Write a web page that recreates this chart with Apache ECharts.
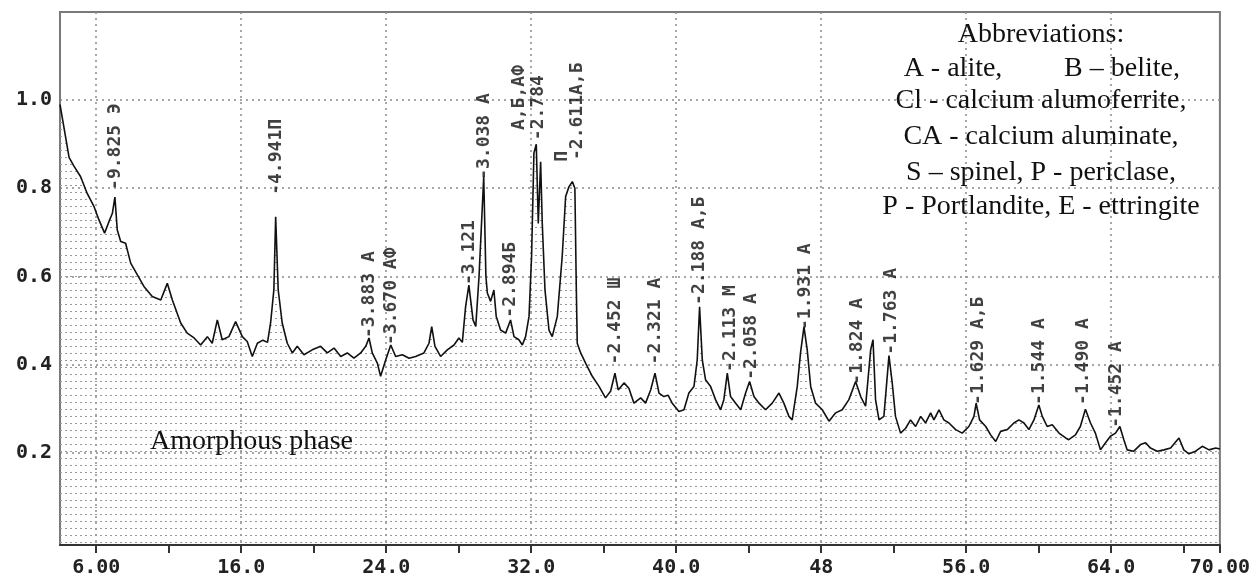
<!DOCTYPE html>
<html>
<head>
<meta charset="utf-8">
<script src="https://cdn.jsdelivr.net/npm/echarts@6/dist/echarts.min.js"></script>
<style>
html,body{margin:0;padding:0;background:#fff;}
#chart{width:1253px;height:583px;}
</style>
</head>
<body>
<div id="chart"></div>
<script>
// ---- data ----
const twoTheta = [6.00,6.25,6.5,6.77,7.14,7.5,7.88,8.15,8.46,8.7,8.89,9.03,9.16,9.35,9.62,9.9,10.27,10.63,11.09,11.56,11.92,12.2,12.66,13.02,13.4,13.76,14.13,14.4,14.68,14.95,15.32,15.69,16.06,16.33,16.61,16.89,17.2,17.45,17.62,17.8,17.9,18.04,18.26,18.54,18.82,19.09,19.46,19.92,20.38,20.75,21.12,21.49,21.85,22.22,22.59,22.87,23.05,23.23,23.51,23.69,23.97,24.25,24.52,24.89,25.26,25.62,26.08,26.36,26.51,26.69,27.0,27.37,27.74,28.01,28.2,28.38,28.56,28.79,28.94,29.12,29.38,29.5,29.58,29.76,29.94,30.07,30.31,30.59,30.86,31.05,31.32,31.51,31.69,31.88,32.02,32.15,32.28,32.39,32.52,32.61,32.76,32.98,33.16,33.44,33.71,33.9,34.08,34.27,34.41,34.49,34.54,34.73,35.0,35.37,35.74,36.1,36.38,36.62,36.8,37.12,37.39,37.67,38.04,38.31,38.59,38.83,39.05,39.32,39.55,39.78,40.15,40.43,40.7,40.98,41.16,41.29,41.44,41.62,41.9,42.17,42.45,42.63,42.82,43.0,43.28,43.56,43.83,44.05,44.29,44.57,44.93,45.3,45.67,45.94,46.22,46.4,46.68,46.86,47.05,47.23,47.42,47.69,48.06,48.43,48.8,49.16,49.53,49.9,50.18,50.45,50.73,50.86,51.0,51.19,51.46,51.74,51.92,52.1,52.38,52.66,52.93,53.21,53.49,53.76,54.04,54.22,54.5,54.77,55.05,55.42,55.78,56.15,56.43,56.55,56.74,57.08,57.35,57.63,57.9,58.27,58.63,58.91,59.19,59.46,59.74,60.01,60.2,60.47,60.75,61.12,61.49,61.66,62.03,62.3,62.58,62.86,63.13,63.41,63.69,63.96,64.24,64.48,64.7,64.88,65.25,65.62,65.9,66.17,66.54,66.91,67.28,67.74,68.01,68.29,68.66,69.03,69.4,69.77,70.0];
const intensity = [0.99,0.93,0.87,0.85,0.826,0.788,0.758,0.728,0.698,0.724,0.743,0.78,0.705,0.679,0.675,0.63,0.603,0.577,0.554,0.546,0.584,0.546,0.494,0.471,0.46,0.444,0.463,0.448,0.501,0.456,0.463,0.497,0.463,0.452,0.418,0.448,0.455,0.45,0.494,0.569,0.735,0.569,0.494,0.448,0.426,0.441,0.422,0.433,0.441,0.426,0.437,0.418,0.426,0.414,0.426,0.441,0.46,0.426,0.403,0.373,0.41,0.444,0.418,0.422,0.414,0.418,0.426,0.448,0.486,0.441,0.418,0.433,0.444,0.46,0.45,0.531,0.58,0.501,0.486,0.599,0.826,0.6,0.562,0.543,0.569,0.509,0.478,0.471,0.501,0.463,0.456,0.444,0.463,0.509,0.645,0.88,0.90,0.72,0.86,0.72,0.569,0.478,0.463,0.509,0.645,0.781,0.803,0.815,0.80,0.569,0.448,0.426,0.403,0.373,0.35,0.324,0.339,0.38,0.342,0.358,0.346,0.312,0.324,0.312,0.342,0.38,0.335,0.327,0.33,0.312,0.293,0.297,0.335,0.35,0.41,0.531,0.41,0.365,0.35,0.32,0.297,0.32,0.38,0.327,0.312,0.297,0.335,0.361,0.327,0.312,0.297,0.312,0.335,0.312,0.282,0.274,0.35,0.426,0.485,0.433,0.35,0.312,0.297,0.271,0.29,0.297,0.32,0.361,0.327,0.305,0.433,0.456,0.32,0.274,0.282,0.42,0.358,0.282,0.244,0.255,0.274,0.259,0.282,0.267,0.29,0.274,0.297,0.274,0.267,0.252,0.244,0.259,0.282,0.312,0.274,0.259,0.24,0.225,0.248,0.252,0.267,0.274,0.267,0.252,0.274,0.308,0.282,0.259,0.263,0.244,0.233,0.229,0.24,0.259,0.298,0.267,0.244,0.206,0.222,0.237,0.244,0.259,0.229,0.206,0.203,0.218,0.222,0.21,0.203,0.206,0.21,0.233,0.206,0.197,0.203,0.214,0.206,0.21,0.208];

// peak annotations: anchor (start of text) in data units
const peakLabelText = ['-9.825 Э','-4.941П','-3.883 А','-3.670 АФ','-3.121','-3.038 А','-2.894Б','-2.784','А,Б,АФ','П','-2.611А,Б','-2.452 Ш','-2.321 А','-2.188 А,Б','-2.113 М','-2.058 А','-1.931 А','-1.824 А','-1.763 А','-1.629 А,Б','-1.544 А','-1.490 А','-1.452 А'];
const peakLabelX = [9.03,17.92,23.05,24.26,28.57,29.39,30.83,32.37,31.32,33.7,34.52,36.62,38.83,41.26,42.97,44.12,47.1,49.97,51.85,56.65,60.01,62.45,64.26];
const peakLabelY = [0.796,0.785,0.46,0.444,0.58,0.819,0.506,0.909,0.932,0.86,0.864,0.40,0.40,0.535,0.383,0.365,0.478,0.354,0.422,0.308,0.308,0.308,0.256];

// axis tick labels
const xTickValues = [8,12,16,20,24,28,32,36,40,44,48,52,56,60,64,68,70];
const xLabelValues = [8,16,24,32,40,48,56,64,70];
const xLabelTexts = ['6.00','16.0','24.0','32.0','40.0','48','56.0','64.0','70.00'];
const xGridValues = [8,16,24,32,40,48,56,64];
const yLabelValues = [0.2,0.4,0.6,0.8,1.0];
const yLabelTexts = ['0.2','0.4','0.6','0.8','1.0'];

const abbreviationLines = ['Abbreviations:','Cl - calcium alumoferrite,','CA - calcium aluminate,','S – spinel, P - periclase,','P - Portlandite, E - ettringite'];
const abbrevPair = ['A - alite,','B – belite,'];
const amorphousText = 'Amorphous phase';

// ---- chart ----
const pat = document.createElement('canvas');
pat.width = 5; pat.height = 7;
const pctx = pat.getContext('2d');
pctx.fillStyle = '#999999';
pctx.fillRect(0, 3, 2, 1);

const chart = echarts.init(document.getElementById('chart'), null, {renderer: 'canvas'});
const lineData = twoTheta.map((x, i) => [x, intensity[i]]);
const labelData = peakLabelX.map((x, i) => ({value: [x, peakLabelY[i]], name: peakLabelText[i]}));
const monoFont = '"DejaVu Sans Mono", monospace';
const serifFont = '"Liberation Serif", "Times New Roman", serif';
const dotted = {color: '#8a8a8a', width: 1.5, type: [2, 4]};

const gridTop = 12, gridBottom = 545;
const serifStyle = {font: '28px ' + serifFont, fill: '#111', verticalAlign: 'middle'};
const graphics = [];
graphics.push({type: 'text', x: 150, y: 442, style: Object.assign({text: amorphousText, align: 'left'}, serifStyle), z: 100});
const abbrevY = [35, 101, 137, 173, 207];
abbreviationLines.forEach((t, i) => {
  graphics.push({type: 'text', x: 1041, y: abbrevY[i], style: Object.assign({text: t, align: 'center'}, serifStyle), z: 100});
});
graphics.push({type: 'text', x: 953, y: 69, style: Object.assign({text: abbrevPair[0], align: 'center'}, serifStyle), z: 100});
graphics.push({type: 'text', x: 1122, y: 69, style: Object.assign({text: abbrevPair[1], align: 'center'}, serifStyle), z: 100});

chart.setOption({
  animation: false,
  backgroundColor: '#fff',
  grid: {left: 60, right: 28, top: gridTop, bottom: 583 - gridBottom, show: true, borderColor: '#7a7a7a', borderWidth: 2},
  xAxis: [{
    type: 'value', min: 6, max: 70,
    axisLine: {show: true, onZero: false, lineStyle: {color: '#333', width: 2}},
    axisTick: {show: true, inside: false, length: 8, customValues: xTickValues, lineStyle: {color: '#333', width: 2}},
    axisLabel: {show: true, customValues: xLabelValues, margin: 13, color: '#222',
      fontFamily: monoFont, fontWeight: 'bold', fontSize: 20,
      formatter: v => { const i = xLabelValues.findIndex(a => Math.abs(a - v) < 1e-6); return i >= 0 ? xLabelTexts[i] : ''; }},
    splitLine: {show: false}
  }, {
    type: 'value', min: 6, max: 70, position: 'top',
    axisLine: {show: false}, axisLabel: {show: false},
    axisTick: {show: false, customValues: xGridValues},
    splitLine: {show: true, lineStyle: dotted}
  }],
  yAxis: [{
    type: 'value', min: -0.01, max: 1.2,
    axisLine: {show: true, lineStyle: {color: '#7a7a7a', width: 2}},
    axisTick: {show: false, customValues: yLabelValues},
    axisLabel: {show: true, customValues: yLabelValues, margin: 8, color: '#222',
      fontFamily: monoFont, fontWeight: 'bold', fontSize: 20,
      formatter: v => { const i = yLabelValues.findIndex(a => Math.abs(a - v) < 1e-6); return i >= 0 ? yLabelTexts[i] : ''; }},
    splitLine: {show: true, lineStyle: dotted}
  }],
  series: [{
    type: 'line', data: lineData, showSymbol: false, symbol: 'none',
    lineStyle: {color: '#111', width: 1.6},
    areaStyle: {color: {image: pat, repeat: 'repeat'}, opacity: 1, origin: 'start'},
    z: 5
  }, {
    type: 'scatter', data: labelData, symbol: 'circle', symbolSize: 2,
    itemStyle: {color: 'rgba(0,0,0,0)'},
    label: {show: true, position: [1, 1], rotate: 90, align: 'left', verticalAlign: 'middle',
      formatter: p => p.name, fontFamily: monoFont, fontWeight: 'bold', fontSize: 18, color: '#111'},
    labelLayout: {hideOverlap: false},
    z: 10
  }],
  graphic: graphics
});
</script>
</body>
</html>
